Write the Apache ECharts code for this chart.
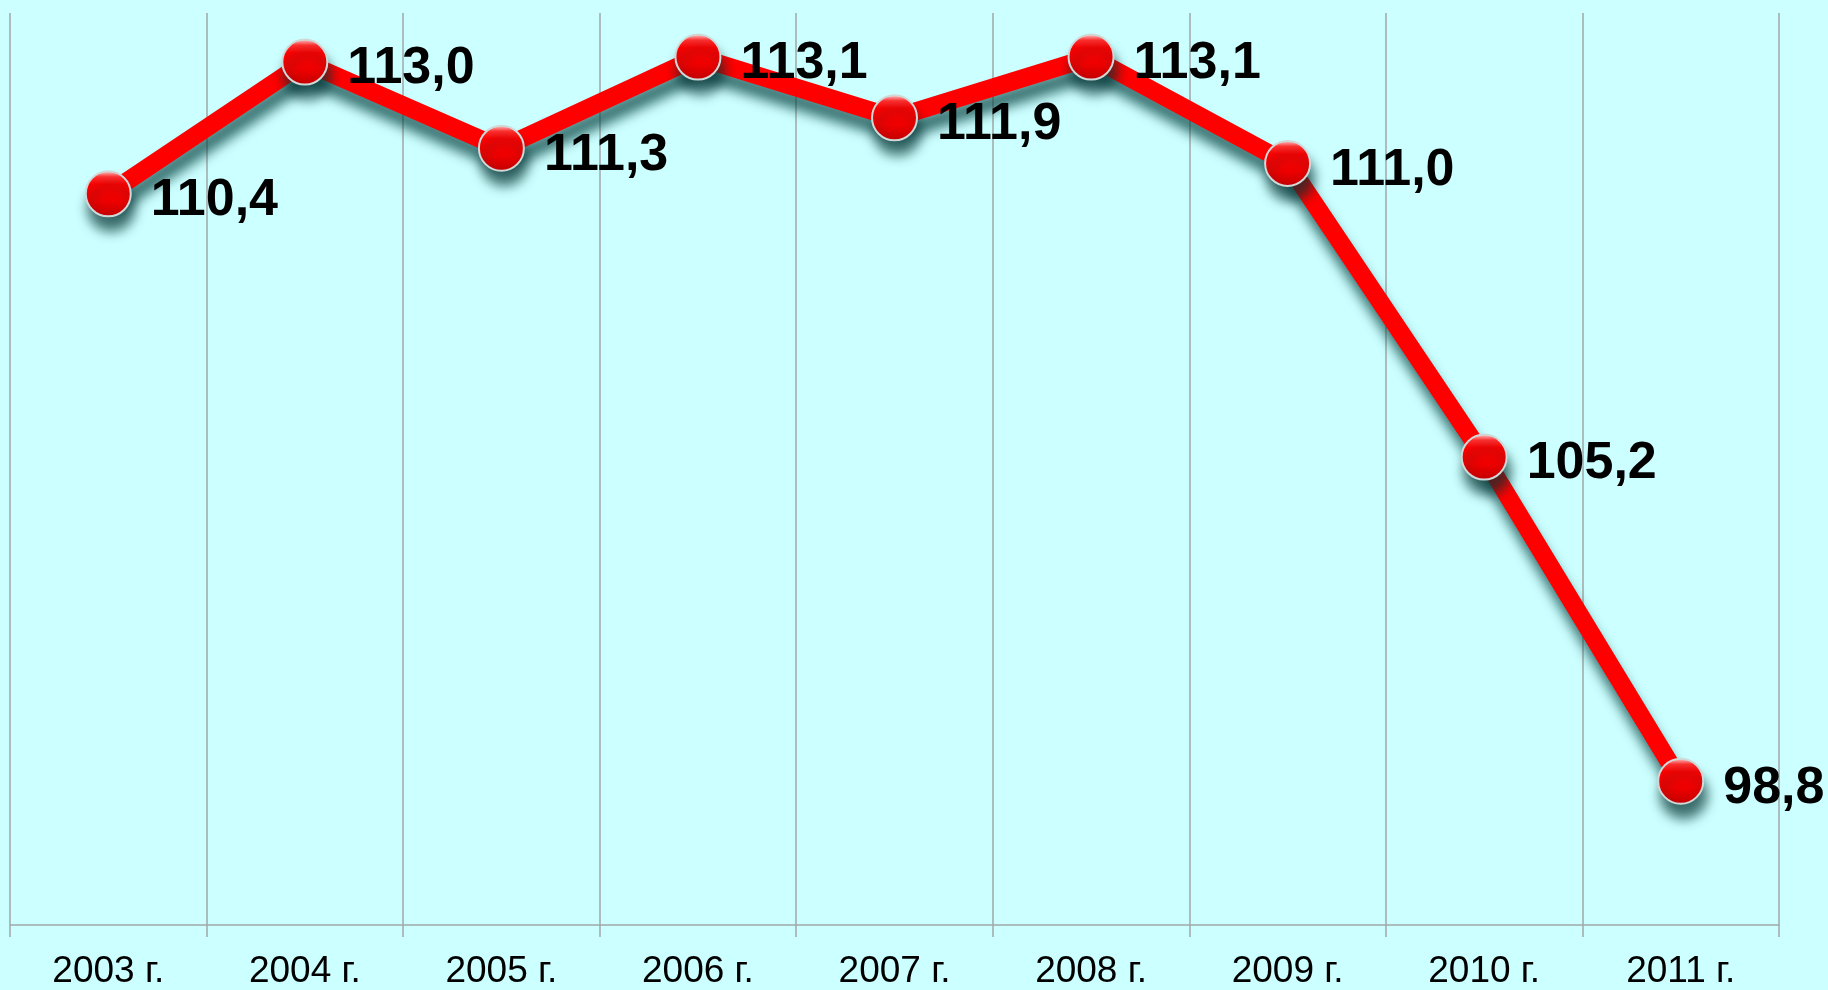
<!DOCTYPE html>
<html>
<head>
<meta charset="utf-8">
<script src="https://cdn.jsdelivr.net/npm/echarts@6/dist/echarts.min.js"></script>
<style>
html,body{margin:0;padding:0;background:#ccffff;}
#chart{width:1828px;height:990px;}
</style>
</head>
<body>
<div id="chart"></div>
<script>
const categories = ['2003 г.', '2004 г.', '2005 г.', '2006 г.', '2007 г.', '2008 г.', '2009 г.', '2010 г.', '2011 г.'];
const values = [110.4, 113.0, 111.3, 113.1, 111.9, 113.1, 111.0, 105.2, 98.8];

const chart = echarts.init(document.getElementById('chart'));
chart.setOption({
  backgroundColor: '#ccffff',
  animation: false,
  grid: { left: 10, right: 49, top: 13, bottom: 62 },
  xAxis: {
    type: 'category',
    data: categories,
    boundaryGap: true,
    axisLine: { show: true, lineStyle: { color: '#a0a8a8', width: 1.5 } },
    axisTick: { show: true, length: 12, lineStyle: { color: '#a0a8a8', width: 1.5 } },
    splitLine: { show: true, lineStyle: { color: '#a0a8a8', width: 1.5 } },
    axisLabel: {
      color: '#000', fontFamily: 'Liberation Sans, Arial, sans-serif', fontSize: 37, margin: 28
    }
  },
  yAxis: {
    type: 'value',
    min: 95.96,
    max: 113.97,
    show: false,
    splitLine: { show: false }
  },
  series: [{
    type: 'line',
    data: values,
    symbol: 'circle',
    symbolSize: 45,
    lineStyle: {
      color: '#ff0000', width: 18,
      shadowColor: 'rgba(0,60,60,0.7)', shadowBlur: 12, shadowOffsetX: 3, shadowOffsetY: 14
    },
    itemStyle: {
      color: {
        type: 'linear', x: 0, y: 0, x2: 0, y2: 1,
        colorStops: [
          { offset: 0, color: '#ffe0e0' },
          { offset: 0.14, color: '#ff3030' },
          { offset: 0.3, color: '#ff0000' },
          { offset: 0.65, color: '#f00000' },
          { offset: 1, color: '#c00000' }
        ]
      },
      borderColor: '#d0d8d8', borderWidth: 2,
      shadowColor: 'rgba(0,50,50,0.7)', shadowBlur: 12, shadowOffsetX: 3, shadowOffsetY: 14
    },
    label: {
      show: true,
      position: 'right',
      distance: 19,
      offset: [0, 7],
      color: '#000',
      fontWeight: 'bold',
      fontSize: 52,
      fontFamily: 'Liberation Sans, Arial, sans-serif',
      formatter: p => p.value.toFixed(1).replace('.', ',')
    },
    z: 3
  }]
});
</script>
</body>
</html>
